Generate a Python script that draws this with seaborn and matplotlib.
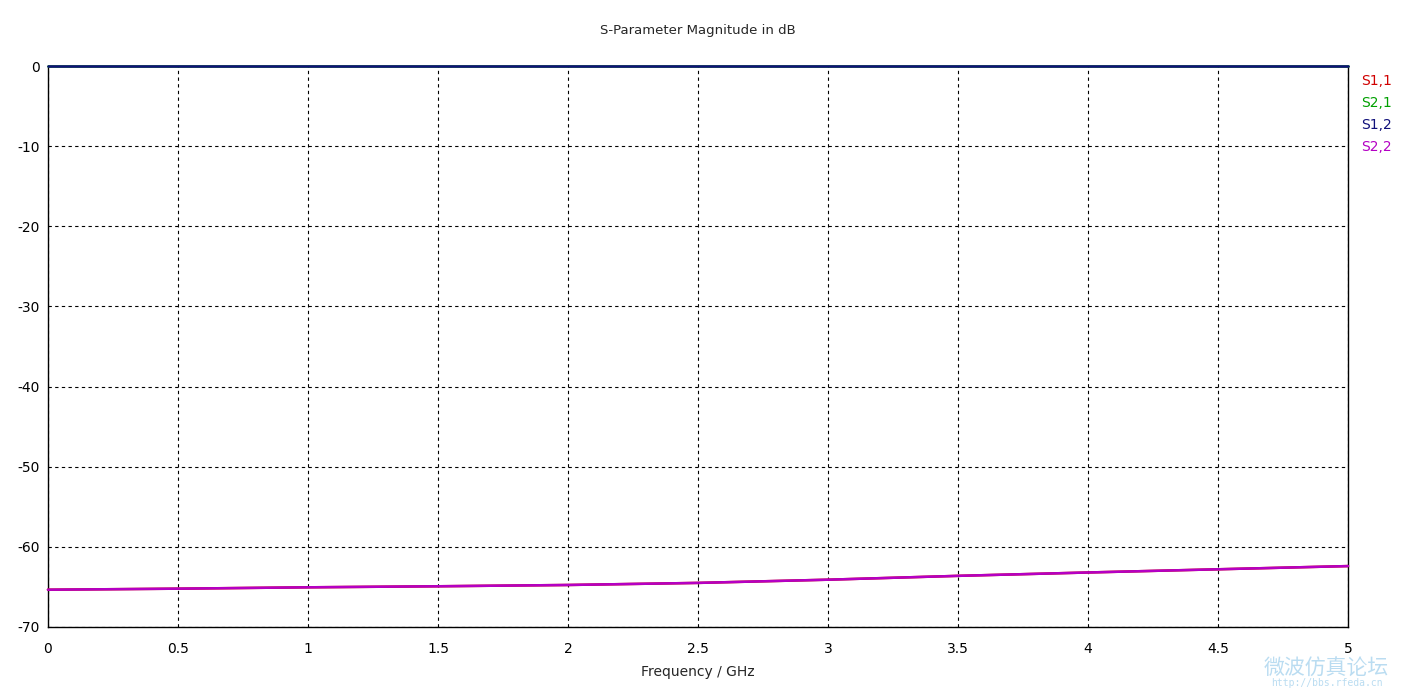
import numpy as np
import pandas as pd
import matplotlib
matplotlib.use("Agg")
import matplotlib.pyplot as plt
import seaborn as sns

# frequency points (GHz) and magnitudes (dB)
freq = [0, 0.5, 1, 1.5, 2, 2.5, 3, 3.5, 4, 4.5, 5]
s11 = [-65.35, -65.22, -65.05, -64.92, -64.76, -64.5, -64.1, -63.62, -63.2, -62.8, -62.4]
s21 = [0, 0, 0, 0, 0, 0, 0, 0, 0, 0, 0]
s12 = [0, 0, 0, 0, 0, 0, 0, 0, 0, 0, 0]
s22 = [-65.35, -65.22, -65.05, -64.92, -64.76, -64.5, -64.1, -63.62, -63.2, -62.8, -62.4]
names = ["S1,1", "S2,1", "S1,2", "S2,2"]
colors = ["#d00000", "#00a000", "#10107a", "#b400c4"]

df = pd.concat([
    pd.DataFrame({"f": freq, "dB": s, "trace": n})
    for s, n in zip([s11, s21, s12, s22], names)
])

sns.set_style("white")
plt.rcParams['font.family'] = ['DejaVu Sans', 'Noto Sans CJK SC']
plt.rcParams['axes.unicode_minus'] = False

fig = plt.figure(figsize=(14.19, 6.88), dpi=100)
ax = fig.add_axes([0.0338, 0.0887, 0.9162, 0.8153])

sns.lineplot(data=df, x="f", y="dB", hue="trace", palette=dict(zip(names, colors)),
             linewidth=1.8, ax=ax, legend=False)
# let the traces sit on top of the frame (0 dB trace covers the top spine)
for ln in ax.lines:
    ln.set_clip_on(False)
    ln.set_zorder(5)

ax.set_xlim(0, 5)
ax.set_ylim(-70, 0)
ax.set_xticks(np.arange(0, 5.01, 0.5))
ax.set_xticklabels(["0", "0.5", "1", "1.5", "2", "2.5", "3", "3.5", "4", "4.5", "5"])
ax.set_yticks(np.arange(-70, 1, 10))
ax.grid(True, color="black", linestyle=(0, (3, 3)), linewidth=0.8)
ax.tick_params(direction="inout", length=6, width=0.8, labelsize=10, colors="black")
ax.tick_params(axis="x", pad=8)
ax.tick_params(axis="y", pad=3)
for sp in ax.spines.values():
    sp.set_color("black")
    sp.set_linewidth(1)

ax.set_xlabel("Frequency / GHz", fontsize=10, labelpad=6)
ax.set_ylabel("")
fig.text(0.4915, 0.955, "S-Parameter Magnitude in dB", ha="center", va="center", fontsize=9.5)

# trace labels on the right
for i, (n, c) in enumerate(zip(names, colors)):
    fig.text(0.9595, 1 - (81 + 22 * i) / 688, n, color=c, fontsize=10, va="center", ha="left")

# faint watermark
fig.text(0.935, 1 - 669 / 688, "微波仿真论坛", color="#a9d4ee", fontsize=15, ha="center", va="center",
         family=['Noto Sans CJK SC', 'DejaVu Sans'], alpha=0.8)
fig.text(0.935, 1 - 683 / 688, "http://bbs.rfeda.cn", color="#a9d4ee", fontsize=7, ha="center", va="center",
         family="DejaVu Sans Mono", alpha=0.8)

fig.savefig("out.png", dpi=100)
